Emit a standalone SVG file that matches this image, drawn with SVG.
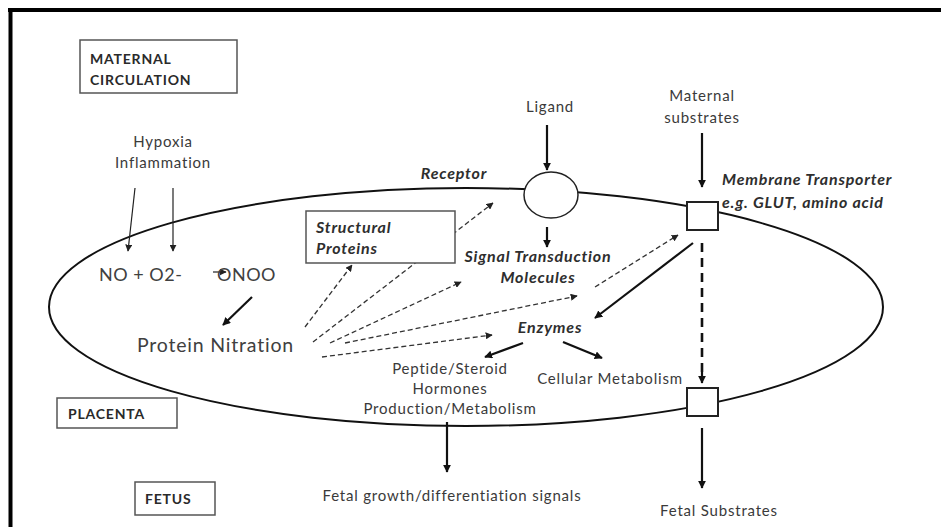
<svg xmlns="http://www.w3.org/2000/svg" width="941" height="527" viewBox="0 0 941 527">
<defs>
<style>
.t{font-family:Lato,"Open Sans","Liberation Sans",sans-serif;fill:#3a3a3a;}
.r{font-size:15px;letter-spacing:0.8px;}
.bi{font-size:16px;font-weight:bold;font-style:italic;fill:#2e2e2e;letter-spacing:0.8px;}
.b{font-size:14px;font-weight:bold;fill:#2a2a2a;letter-spacing:0.8px;}
.big{font-size:18px;fill:#404040;letter-spacing:0.5px;}
.lbl{fill:#fff;stroke:#555;stroke-width:1.5;}
.sol{stroke:#111;stroke-width:2.2;fill:none;}
.thin{stroke:#222;stroke-width:1.2;fill:none;}
.dash{stroke:#333;stroke-width:1.3;stroke-dasharray:5 3;fill:none;}
.tdash{stroke:#111;stroke-width:2.6;stroke-dasharray:9 6;fill:none;}
</style>
<marker id="ah" viewBox="0 0 10 10" refX="9" refY="5" markerWidth="8" markerHeight="8" markerUnits="userSpaceOnUse" orient="auto"><path d="M0,0 L10,5 L0,10 z" fill="#111"/></marker>
<marker id="as" viewBox="0 0 10 10" refX="9" refY="5" markerWidth="7" markerHeight="7" markerUnits="userSpaceOnUse" orient="auto"><path d="M0,0 L10,5 L0,10 z" fill="#222"/></marker>
</defs>
<rect width="941" height="527" fill="#fff"/>
<path d="M8,10 H941 M10.5,8 V527" stroke="#000" stroke-width="4" fill="none"/>

<g id="placenta-membrane">
<ellipse cx="466" cy="307" rx="417" ry="119" fill="none" stroke="#111" stroke-width="2"/>
</g>

<g id="connectors">
<path class="thin" d="M135,188 L128,251" marker-end="url(#as)"/>
<path class="thin" d="M173,188 V251" marker-end="url(#as)"/>
<path class="sol" d="M547,125 V170" marker-end="url(#ah)"/>
<path class="sol" d="M702,133 V187" marker-end="url(#ah)"/>
<path class="sol" d="M547,227 V247" marker-end="url(#ah)"/>
<path class="thin" d="M213,272 H226" marker-end="url(#as)"/>
<path class="sol" d="M252,297 L223,325" marker-end="url(#ah)"/>
<path class="dash" d="M305,327 L352,265" marker-end="url(#as)"/>
<path class="dash" d="M313,342 L493,203" marker-end="url(#as)"/>
<path class="dash" d="M330,343 L461,282" marker-end="url(#as)"/>
<path class="dash" d="M345,343 L577,296" marker-end="url(#as)"/>
<path class="dash" d="M595,287 L678,235" marker-end="url(#as)"/>
<path class="dash" d="M322,357 L492,335" marker-end="url(#as)"/>
<path class="sol" d="M693,243 L595,318" marker-end="url(#ah)"/>
<path class="sol" d="M523,343 L485,357" marker-end="url(#ah)"/>
<path class="sol" d="M563,342 L602,358" marker-end="url(#ah)"/>
<path class="tdash" d="M702,243 V376"/>
<path class="sol" d="M702,372 V383" marker-end="url(#ah)"/>
<path class="sol" d="M447,422 V472" marker-end="url(#ah)"/>
<path class="sol" d="M702,428 V488" marker-end="url(#ah)"/>
</g>

<g id="maternal-circulation">
<rect class="lbl" x="80" y="40" width="157" height="53"/>
<text class="t b" x="90" y="64">MATERNAL</text>
<text class="t b" x="90" y="85">CIRCULATION</text>
</g>
<g id="hypoxia">
<text class="t r" x="163" y="147" text-anchor="middle">Hypoxia</text>
<text class="t r" x="163" y="168" text-anchor="middle">Inflammation</text>
</g>
<g id="receptor">
<ellipse cx="551" cy="195" rx="27" ry="23" fill="#fff" stroke="#222" stroke-width="1.5"/>
<text class="t bi" x="454" y="179" text-anchor="middle">Receptor</text>
</g>
<g id="ligand">
<text class="t r" x="550" y="112" text-anchor="middle">Ligand</text>
</g>
<g id="maternal-substrates">
<text class="t r" x="702" y="101" text-anchor="middle">Maternal</text>
<text class="t r" x="702" y="123" text-anchor="middle">substrates</text>
</g>
<g id="transporter-top">
<rect x="687" y="202" width="31" height="28" fill="#fff" stroke="#222" stroke-width="2"/>
<text class="t bi" x="722" y="185">Membrane Transporter</text>
<text class="t bi" x="722" y="208">e.g. GLUT, amino acid</text>
</g>
<g id="transporter-bottom">
<rect x="687" y="388" width="31" height="28" fill="#fff" stroke="#222" stroke-width="2"/>
</g>
<g id="structural-proteins">
<rect class="lbl" x="306" y="211" width="149" height="52"/>
<text class="t bi" x="316" y="233">Structural</text>
<text class="t bi" x="316" y="254">Proteins</text>
</g>
<g id="signal-transduction">
<text class="t bi" x="538" y="262" text-anchor="middle">Signal Transduction</text>
<text class="t bi" x="538" y="283" text-anchor="middle">Molecules</text>
</g>
<g id="no-o2">
<text class="t big" x="99" y="281">NO + O2-</text>
</g>
<g id="onoo">
<text class="t big" x="217" y="281">ONOO</text>
</g>
<g id="protein-nitration">
<text class="t big" x="137" y="352" style="font-size:19.5px;letter-spacing:0.8px">Protein Nitration</text>
</g>
<g id="enzymes">
<text class="t bi" x="550" y="333" text-anchor="middle">Enzymes</text>
</g>
<g id="peptide-steroid">
<text class="t r" x="450" y="374" text-anchor="middle">Peptide/Steroid</text>
<text class="t r" x="450" y="394" text-anchor="middle">Hormones</text>
<text class="t r" x="450" y="414" text-anchor="middle">Production/Metabolism</text>
</g>
<g id="cellular-metabolism">
<text class="t r" x="610" y="384" text-anchor="middle">Cellular Metabolism</text>
</g>
<g id="placenta">
<rect class="lbl" x="57" y="398" width="120" height="30"/>
<text class="t b" x="68" y="419">PLACENTA</text>
</g>
<g id="fetus">
<rect class="lbl" x="135" y="482" width="80" height="33"/>
<text class="t b" x="145" y="504">FETUS</text>
</g>
<g id="fetal-growth">
<text class="t r" x="452" y="501" text-anchor="middle">Fetal growth/differentiation signals</text>
</g>
<g id="fetal-substrates">
<text class="t r" x="719" y="516" text-anchor="middle">Fetal Substrates</text>
</g>
</svg>
